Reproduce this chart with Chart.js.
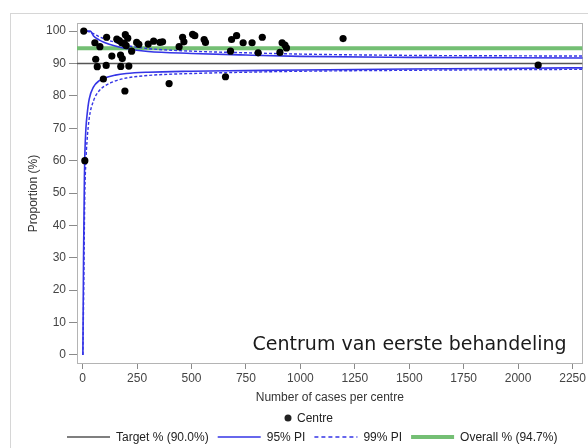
<!DOCTYPE html>
<html><head><meta charset="utf-8">
<script src="https://cdn.jsdelivr.net/npm/chart.js@4.4.1/dist/chart.umd.min.js"></script>
<style>
html,body{margin:0;padding:0;background:#fff;overflow:hidden;}
#wrap{position:relative;width:588px;height:448px;}
#frame{position:absolute;left:10px;top:13px;width:600px;height:500px;border:1px solid #d6d6d6;box-sizing:border-box;}
canvas{position:absolute;left:0;top:0;}
</style></head><body>
<div id="wrap"><div id="frame"></div><canvas id="c" width="588" height="448"></canvas></div>
<script>
// ---- data ----
const centreCases = [5, 10, 56, 60, 67, 79, 95, 108, 110, 134, 157, 168, 174, 175, 179, 182, 191, 194, 196, 200, 207, 212, 225, 248, 258, 301, 326, 355, 367, 397, 443, 459, 465, 505, 515, 558, 564, 656, 679, 684, 707, 737, 778, 806, 825, 906, 916, 929, 936, 1196, 2092];
const centrePct = [100, 60, 96.4, 91.3, 89, 95.2, 85.2, 89.4, 98.1, 92.3, 97.5, 97.1, 92.6, 89.1, 96.4, 91.5, 96.2, 81.5, 98.9, 95.5, 97.8, 89.2, 93.8, 96.5, 95.9, 96, 96.9, 96.5, 96.7, 83.8, 95.2, 98.1, 96.7, 99, 98.6, 97.4, 96.5, 85.9, 93.8, 97.4, 98.6, 96.4, 96.4, 93.3, 98.1, 93.4, 96.4, 95.7, 94.8, 97.7, 89.5];

const lowerCases = [1, 4, 8, 10, 15, 20, 30, 50, 75, 100, 150, 200, 300, 500, 750, 1000, 1500, 2000, 2300];
const lower95 = [0, 30, 55, 62, 70, 74, 79, 82.8, 84.6, 85.5, 86.4, 86.9, 87.3, 87.6, 87.8, 88.0, 88.3, 88.55, 88.65];
const lower99 = [0, 15, 40, 50, 60, 66, 73, 78.5, 81.5, 83, 84.6, 85.5, 86.3, 86.9, 87.3, 87.6, 87.9, 88.1, 88.2];
const upperCases = [20, 35, 50, 75, 100, 150, 200, 300, 500, 750, 1000, 1500, 2000, 2300];
const upper95 = [100, 100, 98.5, 97.3, 96.5, 95.4, 94.6, 93.7, 93.1, 92.6, 92.2, 91.9, 91.75, 91.7];
const upper99 = [100, 99.6, 99.2, 98.3, 97.6, 96.5, 95.6, 94.6, 93.8, 93.3, 92.9, 92.5, 92.35, 92.3];

const targetPct = 90.0;
const overallPct = 94.7;

const xTicks = [0, 250, 500, 750, 1000, 1250, 1500, 1750, 2000, 2250];
const yTicks = [0, 10, 20, 30, 40, 50, 60, 70, 80, 90, 100];
const xRange = [-26, 2296];
const yRange = [-2.8, 102.5];

const xTitle = 'Number of cases per centre';
const yTitle = 'Proportion (%)';
const annotationText = 'Centrum van eerste behandeling';
const markerLabel = 'Centre';
const legendLabels = ['Target % (90.0%)', '95% PI', '99% PI', 'Overall % (94.7%)'];

// ---- build ----
const pts = (xs, ys) => xs.map((x, i) => ({x: x, y: ys[i]}));
const hline = v => [{x: xRange[0], y: v}, {x: xRange[1], y: v}];

const BLUE = '#3535e6';
const GREEN = '#74bf74';
const GREY = '#555555';
const FONT = '"Liberation Sans", Arial, sans-serif';

const lineStyles = [
  {c: GREY, w: 1.5, d: []},
  {c: BLUE, w: 1.5, d: []},
  {c: BLUE, w: 1.5, d: [4, 3]},
  {c: GREEN, w: 4, d: []}
];

const extras = {
  id: 'extras',
  beforeDatasetsDraw(chart) {
    const {ctx, chartArea: a} = chart;
    ctx.save();
    ctx.strokeStyle = '#b4b4b4';
    ctx.lineWidth = 1;
    ctx.strokeRect(Math.round(a.left) + 0.5, Math.round(a.top) + 0.5, Math.round(a.right - a.left) - 1, Math.round(a.bottom - a.top) - 1);
    ctx.restore();
  },
  afterDraw(chart) {
    const {ctx, chartArea: a} = chart;
    ctx.save();
    ctx.font = '19px "DejaVu Sans", Verdana, sans-serif';
    ctx.fillStyle = '#1a1a1a';
    ctx.textAlign = 'right';
    ctx.textBaseline = 'alphabetic';
    ctx.fillText(annotationText, a.right - 16, a.bottom - 14);

    ctx.font = '12px ' + FONT;
    ctx.textAlign = 'left';
    ctx.textBaseline = 'middle';
    ctx.fillStyle = '#222';
    const y1 = 418;
    ctx.beginPath();
    ctx.arc(288, y1, 3.5, 0, Math.PI * 2);
    ctx.fill();
    ctx.fillText(markerLabel, 297, y1 + 0.5);

    const y2 = 437;
    let x = 67;
    legendLabels.forEach((lab, i) => {
      const s = lineStyles[i];
      ctx.save();
      ctx.strokeStyle = s.c;
      ctx.lineWidth = s.w;
      ctx.setLineDash(s.d);
      ctx.beginPath();
      ctx.moveTo(x, y2);
      ctx.lineTo(x + 43, y2);
      ctx.stroke();
      ctx.restore();
      x += 49;
      ctx.fillStyle = '#222';
      ctx.fillText(lab, x, y2 + 0.5);
      x += ctx.measureText(lab).width + 9;
    });
    ctx.restore();
  }
};

new Chart(document.getElementById('c'), {
  type: 'scatter',
  data: {
    datasets: [
      {label: 'Centre', data: pts(centreCases, centrePct), pointRadius: 3.6, pointBackgroundColor: '#000', pointBorderColor: '#000', borderWidth: 0, order: 0},
      {label: '95% PI lower', data: pts(lowerCases, lower95), showLine: true, borderColor: BLUE, borderWidth: 1.6, pointRadius: 0, cubicInterpolationMode: 'monotone', order: 2},
      {label: '95% PI upper', data: pts(upperCases, upper95), showLine: true, borderColor: BLUE, borderWidth: 1.6, pointRadius: 0, cubicInterpolationMode: 'monotone', order: 2},
      {label: '99% PI lower', data: pts(lowerCases, lower99), showLine: true, borderColor: BLUE, borderWidth: 1.4, borderDash: [3, 2], pointRadius: 0, cubicInterpolationMode: 'monotone', order: 3},
      {label: '99% PI upper', data: pts(upperCases, upper99), showLine: true, borderColor: BLUE, borderWidth: 1.4, borderDash: [3, 2], pointRadius: 0, cubicInterpolationMode: 'monotone', order: 3},
      {label: 'Target', data: hline(targetPct), showLine: true, borderColor: GREY, borderWidth: 1.5, pointRadius: 0, order: 4},
      {label: 'Overall', data: hline(overallPct), showLine: true, borderColor: GREEN, borderWidth: 4, pointRadius: 0, order: 5}
    ]
  },
  options: {
    responsive: false,
    animation: false,
    devicePixelRatio: 1,
    layout: {padding: {top: 23, right: 5, left: 0, bottom: 0}},
    plugins: {legend: {display: false}, tooltip: {enabled: false}},
    scales: {
      x: {
        type: 'linear', min: xRange[0], max: xRange[1],
        afterBuildTicks: s => { s.ticks = xTicks.map(v => ({value: v})); },
        afterFit: s => { s.height = 84; },
        grid: {display: true, drawOnChartArea: false, drawTicks: true, tickLength: 5, color: '#8a8a8a'},
        border: {display: false},
        ticks: {padding: 2, color: '#444', font: {size: 12, family: FONT}, maxRotation: 0, autoSkip: false, callback: v => String(v)},
        title: {display: true, text: xTitle, color: '#333', font: {size: 12, family: FONT}, padding: {top: 0, bottom: 43}}
      },
      y: {
        type: 'linear', min: yRange[0], max: yRange[1],
        afterBuildTicks: s => { s.ticks = yTicks.map(v => ({value: v})); },
        afterFit: s => { s.width = 77; },
        grid: {display: true, drawOnChartArea: false, drawTicks: true, tickLength: 8, color: '#8a8a8a'},
        border: {display: false},
        ticks: {padding: 3, color: '#444', font: {size: 12, family: FONT}, autoSkip: false, callback: v => String(v)},
        title: {display: true, text: yTitle, color: '#333', font: {size: 12, family: FONT}, padding: {top: 26, bottom: 0}}
      }
    }
  },
  plugins: [extras]
});
</script>
</body></html>
